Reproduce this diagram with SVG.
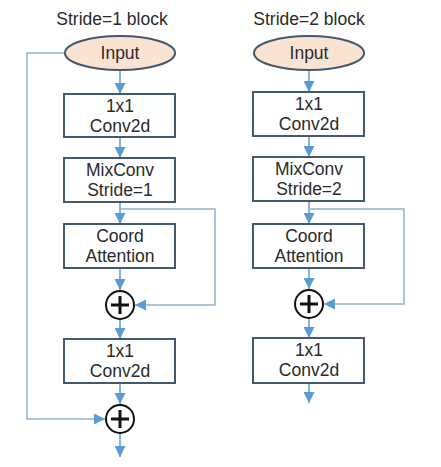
<svg xmlns="http://www.w3.org/2000/svg" width="441" height="467" viewBox="0 0 441 467">
<style>
.t{font-family:"Liberation Sans",Arial,sans-serif;font-size:17.5px;fill:#2a2a2a;text-anchor:middle}
.box{fill:#fff;stroke:#44596b;stroke-width:2}
.ell{fill:#fbe3d4;stroke:#44596b;stroke-width:2}
.sum{fill:#fff;stroke:#111;stroke-width:2}
.plus{stroke:#111;stroke-width:3}
.a{fill:none;stroke:#5b9bd5;stroke-width:1.5;marker-end:url(#ah)}
.sa{fill:none;stroke:#8fb3d0;stroke-width:1.5;marker-end:url(#ah)}
</style>
<defs>
<marker id="ah" viewBox="0 0 10 10" refX="10" refY="5" markerWidth="11" markerHeight="11" markerUnits="userSpaceOnUse" orient="auto">
<path d="M0,0 L10,5 L0,10 z" fill="#5b9bd5"/>
</marker>
</defs>
<rect width="441" height="467" fill="#fff"/>
<text class="t" x="112" y="25">Stride=1 block</text>
<text class="t" x="309" y="25">Stride=2 block</text>
<g id="connectors">
<path class="a" d="M120,70 V94"/>
<path class="a" d="M120,137 V158"/>
<path class="a" d="M120,202 V224"/>
<path class="a" d="M120,268 V290"/>
<path class="a" d="M120,320 V339"/>
<path class="a" d="M120,383 V404"/>
<path class="a" d="M120,434 V457"/>
<path class="sa" d="M120,209 H215 V305 H135"/>
<path class="sa" d="M64,53 H27 V419 H105"/>
<path class="a" d="M309,70 V92"/>
<path class="a" d="M309,136 V157"/>
<path class="a" d="M309,201 V224"/>
<path class="a" d="M309,268 V289"/>
<path class="a" d="M309,319 V338"/>
<path class="a" d="M309,383 V403"/>
<path class="sa" d="M309,209 H404 V304 H324"/>
</g>
<g id="input1"><ellipse class="ell" cx="120" cy="53" rx="55" ry="17"/><text class="t" x="120" y="59">Input</text></g>
<g id="conv1a"><rect class="box" x="64" y="94" width="111" height="43"/><text class="t" x="120" y="112">1x1</text><text class="t" x="120" y="132">Conv2d</text></g>
<g id="mix1"><rect class="box" x="64" y="158" width="111" height="44"/><text class="t" x="120" y="176">MixConv</text><text class="t" x="120" y="196">Stride=1</text></g>
<g id="ca1"><rect class="box" x="64" y="224" width="111" height="44"/><text class="t" x="120" y="242">Coord</text><text class="t" x="120" y="262">Attention</text></g>
<g id="sum1a"><circle class="sum" cx="120" cy="305" r="14"/><path class="plus" d="M111,305 H129 M120,296 V314"/></g>
<g id="conv1b"><rect class="box" x="64" y="339" width="111" height="44"/><text class="t" x="120" y="357">1x1</text><text class="t" x="120" y="377">Conv2d</text></g>
<g id="sum1b"><circle class="sum" cx="120" cy="419" r="14"/><path class="plus" d="M111,419 H129 M120,410 V428"/></g>
<g id="input2"><ellipse class="ell" cx="309" cy="53" rx="55" ry="17"/><text class="t" x="309" y="59">Input</text></g>
<g id="conv2a"><rect class="box" x="253" y="92" width="111" height="44"/><text class="t" x="309" y="110">1x1</text><text class="t" x="309" y="130">Conv2d</text></g>
<g id="mix2"><rect class="box" x="253" y="157" width="111" height="44"/><text class="t" x="309" y="175">MixConv</text><text class="t" x="309" y="195">Stride=2</text></g>
<g id="ca2"><rect class="box" x="253" y="224" width="111" height="44"/><text class="t" x="309" y="242">Coord</text><text class="t" x="309" y="262">Attention</text></g>
<g id="sum2"><circle class="sum" cx="309" cy="304" r="14"/><path class="plus" d="M300,304 H318 M309,295 V313"/></g>
<g id="conv2b"><rect class="box" x="253" y="338" width="111" height="45"/><text class="t" x="309" y="356">1x1</text><text class="t" x="309" y="376">Conv2d</text></g>
</svg>
